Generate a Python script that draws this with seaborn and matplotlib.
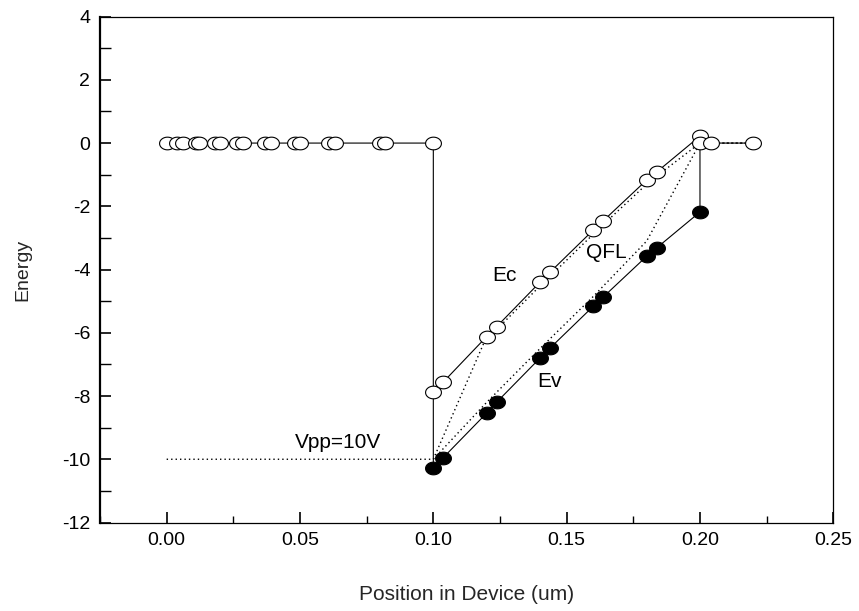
import numpy as np
import pandas as pd
import matplotlib
matplotlib.use("Agg")
import matplotlib.pyplot as plt
from matplotlib.path import Path
from matplotlib.ticker import MultipleLocator, FormatStrFormatter
import seaborn as sns

# ---------------- data ----------------
# Conduction band (open circles)
ec_x = [0.0, 0.004, 0.006, 0.011, 0.012, 0.018, 0.020, 0.0265, 0.0285,
        0.037, 0.039, 0.048, 0.050, 0.061, 0.063, 0.080, 0.082, 0.100,
        0.100, 0.1037, 0.120, 0.1237, 0.140, 0.1437, 0.160, 0.1637,
        0.180, 0.1837, 0.200, 0.200, 0.204, 0.220]
ec_y = [0.0] * 18 + [-7.88, -7.56, -6.12, -5.81, -4.40, -4.09, -2.75, -2.46,
                     -1.17, -0.92, 0.22, 0.0, 0.0, 0.0]

# Valence band (filled circles); first / last points are unmarked line ends
ev_x = [0.100, 0.100, 0.1037, 0.120, 0.1237, 0.140, 0.1437, 0.160, 0.1637,
        0.180, 0.1837, 0.200, 0.200]
ev_y = [-7.88, -10.28, -9.95, -8.54, -8.20, -6.80, -6.49, -5.16, -4.87,
        -3.58, -3.32, -2.18, 0.0]
ev_marked = [False] + [True] * 11 + [False]

# Quasi-Fermi levels (dotted)
qfle_x = [0.100, 0.120, 0.1237, 0.140, 0.1437, 0.160, 0.1637, 0.180, 0.1837,
          0.200, 0.204, 0.220]
qfle_y = [-10.0, -6.12, -5.90, -4.52, -4.22, -2.88, -2.58, -1.30, -1.05,
          0.0, 0.0, 0.0]
qflh_x = [0.0, 0.100, 0.120, 0.140, 0.160, 0.180, 0.200, 0.204, 0.220]
qflh_y = [-10.0, -10.0, -8.20, -6.50, -4.85, -3.10, 0.0, 0.0, 0.0]

labels = ["Ec", "QFL", "Ev", "Vpp=10V"]
label_x = [0.1268, 0.1647, 0.1437, 0.0642]
label_y = [-4.18, -3.45, -7.53, -9.46]

x_ticks = [0.00, 0.05, 0.10, 0.15, 0.20, 0.25]
y_ticks = [4, 2, 0, -2, -4, -6, -8, -10, -12]

# ---------------- styling ----------------
sns.set_theme(style="ticks")
plt.rcParams["font.family"] = ["Liberation Sans", "DejaVu Sans"]
plt.rcParams["axes.unicode_minus"] = False

fig = plt.figure(figsize=(8.59, 6.11), dpi=100)
ax = fig.add_axes([100 / 859, 1 - 522.5 / 611, (833.3 - 100) / 859, (522.5 - 16.6) / 611])

# ellipse marker (circles are slightly wider than tall in the reference)
t = np.linspace(0, 2 * np.pi, 73)
ellipse = Path(np.c_[np.cos(t), 0.8 * np.sin(t)], closed=True)

ec = pd.DataFrame({"x": ec_x, "y": ec_y})
ev = pd.DataFrame({"x": ev_x, "y": ev_y, "m": ev_marked})
qe = pd.DataFrame({"x": qfle_x, "y": qfle_y})
qh = pd.DataFrame({"x": qflh_x, "y": qflh_y})

dot_kw = dict(color="black", linewidth=1.0, linestyle=(0, (1, 2.2)), sort=False,
              estimator=None, ax=ax, legend=False)
sns.lineplot(data=qe, x="x", y="y", **dot_kw)
sns.lineplot(data=qh, x="x", y="y", **dot_kw)

solid_kw = dict(color="black", linewidth=0.8, sort=False, estimator=None, ax=ax, legend=False)
sns.lineplot(data=ec, x="x", y="y", **solid_kw)
sns.lineplot(data=ev, x="x", y="y", **solid_kw)

sns.scatterplot(data=ec, x="x", y="y", marker=ellipse, s=130, facecolor="white",
                edgecolor="black", linewidth=0.8, ax=ax, legend=False, zorder=3)
sns.scatterplot(data=ev[ev["m"]], x="x", y="y", marker=ellipse, s=130, facecolor="black",
                edgecolor="black", linewidth=0.8, ax=ax, legend=False, zorder=3)

for txt, lx, ly in zip(labels, label_x, label_y):
    ax.text(lx, ly, txt, ha="center", va="center", fontsize=15, color="black")

ax.set_xlim(-0.025, 0.25)
ax.set_ylim(-12, 4)
ax.set_xticks(x_ticks)
ax.set_yticks(y_ticks)
ax.xaxis.set_major_formatter(FormatStrFormatter("%.2f"))
ax.xaxis.set_minor_locator(MultipleLocator(0.025))
ax.yaxis.set_minor_locator(MultipleLocator(1))

ax.tick_params(axis="both", which="both", direction="in", colors="black",
               labelsize=14, top=False, right=False)
ax.tick_params(axis="x", which="major", length=8, width=1.2, pad=7)
ax.tick_params(axis="x", which="minor", length=5, width=1.0)
ax.tick_params(axis="y", which="major", length=8, width=1.2, pad=7)
ax.tick_params(axis="y", which="minor", length=8, width=1.0)

for side, sp in ax.spines.items():
    sp.set_visible(True)
    sp.set_color("black")
    sp.set_linewidth(0.9)
ax.spines["left"].set_linewidth(1.6)

ax.set_xlabel("Position in Device (um)", fontsize=15, labelpad=26)
ax.set_ylabel("Energy", fontsize=14, labelpad=22)

fig.savefig("out.png", dpi=100)
